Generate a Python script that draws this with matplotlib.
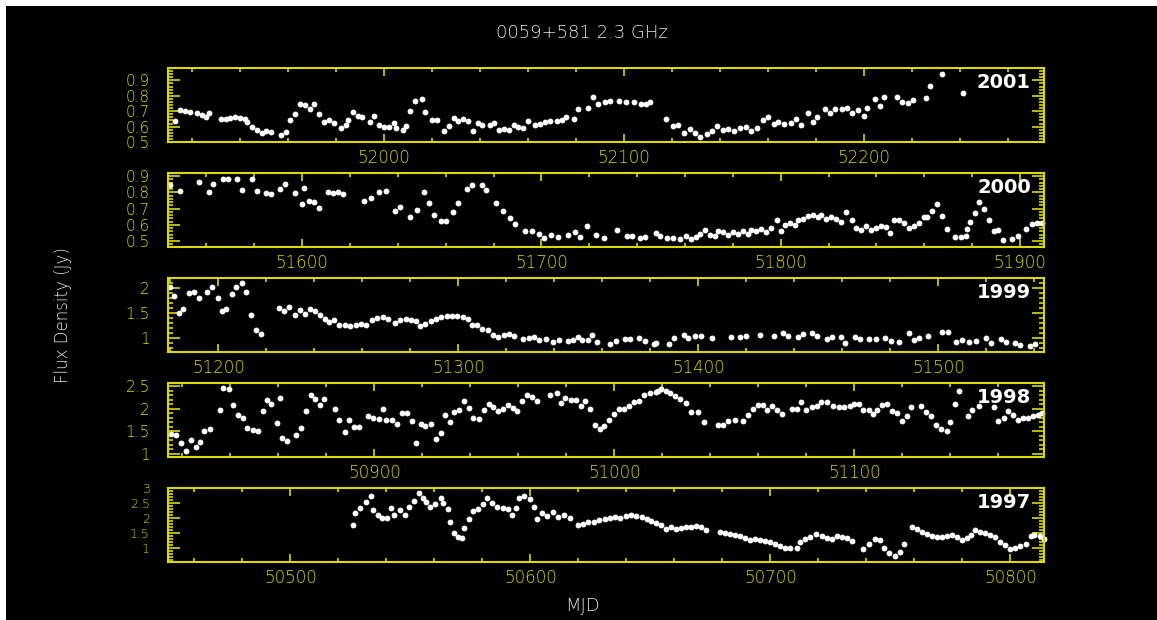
import matplotlib.pyplot as plt
from matplotlib.ticker import MultipleLocator, FuncFormatter
from matplotlib.patches import Rectangle

plt.rcParams["font.family"] = ["DejaVu Sans"]

title = "0059+581 2.3 GHz"
years = ["2001", "2000", "1999", "1998", "1997"]

# 每年的起止MJD（横轴范围）
year_start = [51910, 51544, 51179, 50814, 50449]
year_end = [52275, 51910, 51544, 51179, 50814]

# 纵轴范围与主刻度间隔
y_limits = [(0.5, 0.98), (0.463, 0.92), (0.72, 2.2), (0.93, 2.57), (0.55, 3.0)]
y_major = [0.1, 0.1, 0.5, 0.5, 0.5]
y_minor = [0.02, 0.02, 0.1, 0.1, 0.1]
# 1997年的纵轴刻度较密，字号缩小一些
y_labelsize = [11, 11, 11, 11, 9]

mjd_2001 = [51913, 51915, 51917, 51919, 51922, 51924, 51926, 51927, 51932, 51934,
            51936, 51938, 51940, 51942, 51943, 51945, 51947, 51949, 51951, 51953,
            51957, 51959, 51961, 51963, 51965, 51967, 51969, 51971, 51973, 51975,
            51977, 51979, 51982, 51984, 51985, 51987, 51989, 51991, 51994, 51996,
            51998, 52000, 52002, 52004, 52005, 52008, 52009, 52011, 52013, 52016,
            52017, 52020, 52022, 52025, 52027, 52029, 52031, 52033, 52035, 52037,
            52039, 52041, 52044, 52046, 52048, 52050, 52052, 52054, 52056, 52058,
            52060, 52063, 52065, 52067, 52069, 52072, 52074, 52076, 52079, 52081,
            52085, 52087, 52089, 52092, 52094, 52098, 52101, 52104, 52107, 52109,
            52111, 52117.5, 52120.6, 52122.7, 52124.8, 52127.5, 52129.6, 52131.7,
            52134.5, 52136.6, 52138.6, 52141.1, 52143.5, 52145.9, 52148.4, 52150.7,
            52152.8, 52155.6, 52157.8, 52159.8, 52162.3, 52164.3, 52166.7, 52169.5,
            52171.7, 52173.6, 52176.6, 52178.9, 52180.6, 52183.8, 52185.9, 52187.9,
            52190.7, 52192.8, 52194.9, 52197.7, 52199.8, 52201.4, 52204.6, 52206.7,
            52208.4, 52213.6, 52215.7, 52218.5, 52220.6, 52225.7, 52227.5, 52232.4,
            52241.4]
flux_2001 = [0.633, 0.707, 0.70, 0.696, 0.689, 0.678, 0.662, 0.689, 0.649, 0.649,
             0.656, 0.662, 0.656, 0.649, 0.627, 0.60, 0.578, 0.556, 0.573, 0.567,
             0.544, 0.567, 0.64, 0.682, 0.744, 0.738, 0.716, 0.744, 0.682, 0.627,
             0.644, 0.622, 0.589, 0.611, 0.644, 0.696, 0.667, 0.662, 0.627, 0.667,
             0.611, 0.60, 0.60, 0.622, 0.589, 0.578, 0.604, 0.704, 0.767, 0.778,
             0.696, 0.64, 0.64, 0.571, 0.604, 0.656, 0.633, 0.649, 0.633, 0.573,
             0.622, 0.611, 0.611, 0.622, 0.578, 0.582, 0.578, 0.611, 0.60, 0.589,
             0.633, 0.611, 0.618, 0.627, 0.633, 0.633, 0.64, 0.662, 0.649, 0.716,
             0.722, 0.789, 0.749, 0.76, 0.767, 0.767, 0.76, 0.76, 0.744, 0.744,
             0.76, 0.652, 0.604, 0.613, 0.559, 0.587, 0.559, 0.533,
             0.554, 0.572, 0.602, 0.576, 0.587, 0.57, 0.591, 0.598,
             0.572, 0.591, 0.641, 0.659, 0.615, 0.63, 0.62, 0.626,
             0.652, 0.613, 0.685, 0.63, 0.663, 0.717, 0.689, 0.711,
             0.713, 0.722, 0.689, 0.707, 0.667, 0.722, 0.776, 0.735,
             0.789, 0.793, 0.761, 0.754, 0.772, 0.787, 0.865, 0.941,
             0.815]

mjd_2000 = [51545, 51549, 51557, 51561, 51563, 51567, 51569, 51573, 51575, 51579,
            51581, 51585, 51587, 51591, 51593, 51597, 51600, 51601, 51603, 51605,
            51607, 51611, 51613, 51615, 51617, 51626, 51629, 51632, 51635, 51639,
            51641, 51645, 51648, 51651, 51653, 51655, 51658, 51660, 51663, 51665,
            51669, 51671, 51675, 51677, 51681, 51684, 51687, 51689, 51693, 51696,
            51699, 51701, 51704, 51707, 51711, 51714, 51716, 51719, 51723, 51726,
            51731.8, 51735.6, 51737.7, 51741.2, 51743.3, 51747.9, 51749.5, 51752.3,
            51755.1, 51757.9, 51760.6, 51762.7, 51764.8, 51766.2, 51768.3, 51770.4,
            51772.5, 51773.8, 51775.9, 51778, 51780.1, 51782.2, 51784.3, 51786.3,
            51787.7, 51789.8, 51791.9, 51794, 51796.1, 51798.4, 51800.2, 51801.6,
            51803.7, 51805.8, 51807.2, 51809.3, 51811.3, 51813.4, 51815.5, 51816.9,
            51819, 51821, 51823.1, 51825.2, 51827.3, 51829.8, 51831.5, 51833.6,
            51835.6, 51837.7, 51839.8, 51841.9, 51844, 51845.6, 51847.5, 51849.5,
            51851.6, 51853.7, 51855.8, 51857.9, 51860, 51861.3, 51863.1, 51865.1,
            51867.3, 51869.3, 51872.9, 51875.2, 51877.3, 51878, 51879, 51881.2,
            51882.9, 51884.9, 51887, 51889.1, 51890.9, 51892.9, 51896.8, 51899.3,
            51902.3, 51904.8, 51907.2, 51909.2]
flux_2000 = [0.845, 0.808, 0.865, 0.804, 0.855, 0.882, 0.882, 0.88, 0.814, 0.88,
             0.81, 0.794, 0.79, 0.824, 0.851, 0.794, 0.727, 0.829, 0.749, 0.743,
             0.702, 0.80, 0.794, 0.804, 0.79, 0.749, 0.763, 0.804, 0.81, 0.686,
             0.712, 0.651, 0.692, 0.804, 0.737, 0.661, 0.624, 0.624, 0.678, 0.737,
             0.824, 0.845, 0.845, 0.814, 0.737, 0.688, 0.645, 0.604, 0.559, 0.559,
             0.545, 0.518, 0.539, 0.524, 0.535, 0.553, 0.524, 0.594, 0.539, 0.518,
             0.565, 0.533, 0.533, 0.518, 0.524, 0.549, 0.533, 0.518,
             0.518, 0.512, 0.533, 0.512, 0.524, 0.545, 0.565, 0.539,
             0.533, 0.559, 0.553, 0.539, 0.553, 0.545, 0.559, 0.545,
             0.569, 0.559, 0.573, 0.553, 0.58, 0.627, 0.559, 0.60,
             0.614, 0.60, 0.631, 0.635, 0.655, 0.661, 0.647, 0.661,
             0.635, 0.651, 0.635, 0.62, 0.682, 0.627, 0.58, 0.569,
             0.59, 0.569, 0.58, 0.594, 0.586, 0.549, 0.627, 0.631,
             0.61, 0.58, 0.59, 0.61, 0.647, 0.647, 0.688, 0.729,
             0.655, 0.573, 0.524, 0.524, 0.529, 0.573, 0.62, 0.676,
             0.739, 0.696, 0.631, 0.559, 0.565, 0.508, 0.512, 0.533,
             0.573, 0.606, 0.614, 0.61]

mjd_1999 = [51180, 51181.4, 51183.4, 51185.4, 51187.8, 51189.9, 51191.8, 51195.2,
            51197.3, 51199.7, 51201.5, 51203.3, 51205.6, 51207.4, 51209.7, 51211.6,
            51213.7, 51215.6, 51217.8, 51225.3, 51227.5, 51229.4, 51231.9, 51233.8,
            51235.9, 51238.3, 51240.4, 51242.3, 51244.3, 51246.1, 51248.3, 51250.2,
            51252.7, 51255, 51257.2, 51259.4, 51261.7, 51263.9, 51266.1, 51268.4,
            51270.6, 51273.5, 51275.8, 51278, 51280.2, 51282.5, 51283.9, 51286.2,
            51288.4, 51290.7, 51292.9, 51295.1, 51297.3, 51299.6, 51301.8, 51304,
            51305.5, 51307.7, 51310, 51312.2, 51314.4, 51316.6, 51318.9, 51321.1,
            51323.3, 51327, 51329.3, 51331.5, 51333.7, 51336.4, 51339.4, 51341.9,
            51345.6, 51347.9, 51349.8, 51351.6, 51353.8, 51355.8, 51357.6, 51363.2,
            51365.7, 51369.4, 51371.6, 51375.4, 51377.6, 51381.3, 51382.5, 51387.8,
            51389.7, 51394.1, 51395.5, 51398.7, 51401.1, 51405.6, 51413.4, 51417.2,
            51419.7, 51425.6, 51431.6, 51435.3, 51437.4, 51441.6, 51443.4, 51447.2,
            51449.6, 51453.5, 51455.6, 51459.5, 51461.2, 51465.4, 51467.5, 51471,
            51473.8, 51477.6, 51480.1, 51483.6, 51487.7, 51489.8, 51492, 51495.8,
            51501.4, 51503.8, 51507.3, 51509.7, 51512.9, 51515.7, 51519.9, 51522,
            51525.9, 51528.3, 51531.8, 51534.2, 51538, 51540.4]
flux_1999 = [2.03, 1.85, 1.51, 1.59, 1.90, 1.92, 1.81, 1.93,
             2.03, 1.80, 1.54, 1.59, 1.88, 2.03, 2.10, 1.93,
             1.46, 1.16, 1.09, 1.61, 1.54, 1.63, 1.46, 1.56,
             1.49, 1.59, 1.54, 1.47, 1.39, 1.32, 1.36, 1.27,
             1.26, 1.24, 1.26, 1.29, 1.26, 1.36, 1.41, 1.43,
             1.38, 1.31, 1.36, 1.38, 1.36, 1.34, 1.24, 1.29,
             1.34, 1.39, 1.43, 1.45, 1.45, 1.45, 1.43, 1.38,
             1.27, 1.26, 1.18, 1.16, 1.07, 1.03, 1.07, 1.09,
             1.04, 0.99, 1.00, 1.02, 0.97, 0.99, 0.93, 0.97,
             0.95, 0.97, 1.02, 0.97, 0.97, 1.07, 0.92, 0.89,
             0.95, 0.99, 0.99, 1.01, 0.95, 0.89, 0.90, 0.88,
             1.01, 1.06, 1.00, 1.04, 1.04, 1.00, 1.02, 1.03,
             1.04, 1.06, 1.05, 1.10, 1.04, 1.02, 1.08, 1.10,
             1.04, 0.98, 1.02, 1.02, 0.91, 1.02, 0.98, 0.98,
             0.98, 1.01, 0.95, 0.93, 1.10, 0.96, 1.00, 1.04,
             1.12, 1.12, 0.93, 0.96, 0.93, 0.94, 1.01, 0.91,
             0.98, 0.93, 0.90, 0.86, 0.85, 0.88]

mjd_1998 = [50815.2, 50817.3, 50819.6, 50821.4, 50823.7, 50825.6, 50827.4, 50829.2,
            50831.5, 50835.6, 50837.1, 50839.3, 50841.1, 50843, 50845.2, 50847,
            50849.4, 50851.6, 50853.4, 50855.4, 50857.1, 50859.4, 50860.6, 50861.6,
            50863.5, 50867.3, 50869.3, 50871.7, 50873.5, 50875.4, 50877.2, 50879.2,
            50883.6, 50885.4, 50887.6, 50889.6, 50891.7, 50893.6, 50897.3, 50899.6,
            50901.8, 50903.7, 50904.8, 50907.4, 50909.5, 50911.5, 50913.7, 50915.5,
            50917.4, 50919.3, 50921.1, 50923.4, 50925.6, 50927.8, 50929.3, 50931.5,
            50933.3, 50935.3, 50937.5, 50939.3, 50941.2, 50943.5, 50945.7, 50947.6,
            50949.4, 50951.6, 50953.6, 50955.7, 50957.6, 50959.5, 50961.3, 50963.5,
            50965.8, 50967.6, 50973.2, 50976.2, 50977.7, 50979.5, 50981.8, 50984.1,
            50985.9, 50987.8, 50989.9, 50991.8, 50994, 50995.8, 50997.8, 50999.7,
            51001.8, 51004.2, 51006, 51008.2, 51010.4, 51012.2, 51014.9, 51017.2,
            51018.1, 51019.5, 51021.6, 51023, 51025.1, 51027.2, 51029.7, 51032.1,
            51034.9, 51037.4, 51043.2, 51045.3, 51047.4, 51050.2, 51053.7, 51055.8,
            51057.6, 51060, 51062.1, 51063.7, 51065.6, 51067.9, 51069.7, 51073.9,
            51076, 51077.7, 51079.9, 51082.3, 51084.4, 51086.1, 51088.6, 51091.1,
            51093.4, 51095.5, 51098, 51100, 51101.8, 51103.6, 51106, 51107.8,
            51109.5, 51111.6, 51113.7, 51115.8, 51117.9, 51120, 51121.8, 51123.7,
            51127.6, 51129.7, 51131.8, 51133.9, 51136, 51138.5, 51139.9, 51141.8,
            51143.6, 51147.4, 51149.2, 51152, 51158, 51159.7, 51162.2, 51163.9,
            51166, 51168.1, 51170.2, 51172.3, 51174.4, 51176.4, 51178.2]
flux_1998 = [1.45, 1.42, 1.25, 1.07, 1.30, 1.15, 1.27, 1.50,
             1.55, 1.97, 2.46, 2.44, 2.08, 1.87, 1.79, 1.57,
             1.52, 1.50, 1.94, 2.19, 2.11, 1.68, 2.24, 1.35,
             1.29, 1.42, 1.57, 1.94, 2.31, 2.22, 2.09, 2.22,
             2.00, 1.76, 1.48, 1.74, 1.59, 1.59, 1.83, 1.79,
             1.78, 2.00, 1.76, 1.76, 1.66, 1.91, 1.91, 1.72,
             1.24, 1.67, 1.61, 1.67, 1.33, 1.46, 1.87, 1.70,
             1.92, 1.98, 2.18, 2.02, 1.79, 1.77, 1.97, 2.11,
             2.04, 1.94, 1.99, 2.09, 2.02, 1.94, 2.17, 2.31,
             2.26, 2.18, 2.31, 2.34, 2.13, 2.24, 2.19, 2.19,
             2.05, 2.17, 2.00, 1.65, 1.55, 1.61, 1.76, 1.89,
             2.00, 2.00, 2.07, 2.15, 2.17, 2.31, 2.34, 2.37,
             2.39, 2.43, 2.39, 2.34, 2.29, 2.22, 2.13, 1.93,
             1.93, 1.71, 1.63, 1.63, 1.73, 1.76, 1.72, 1.85,
             1.99, 2.09, 2.08, 1.98, 2.05, 1.98, 1.88, 2.00,
             2.00, 2.14, 1.98, 2.03, 2.07, 2.14, 2.15, 2.05,
             2.03, 2.03, 2.07, 2.11, 2.11, 1.98, 1.97, 1.89,
             1.97, 2.09, 2.11, 1.94, 1.91, 1.72, 1.83, 2.03,
             2.05, 1.92, 1.83, 1.65, 1.55, 1.51, 1.71, 2.11,
             2.40, 1.83, 1.97, 2.07, 2.03, 1.72, 1.79, 1.96,
             1.85, 1.74, 1.79, 1.79, 1.83, 1.85, 1.91]

mjd_1997 = [50526, 50527, 50529.2, 50531.5, 50533.4, 50534.4, 50536.4, 50538.1,
            50540.4, 50541.8, 50543.3, 50545.5, 50547.8, 50549.3, 50551.5, 50553.7,
            50555.2, 50556.7, 50558.2, 50560.4, 50562.6, 50563.7, 50565.6, 50566.6,
            50568.1, 50570, 50571.5, 50572.3, 50574.5, 50576, 50578.2, 50580.4,
            50581.9, 50583.8, 50585.9, 50588.6, 50590.8, 50592.3, 50593.8, 50595.3,
            50597.5, 50599.7, 50601.6, 50602.7, 50604.9, 50607.1, 50609.3, 50611.6,
            50613.8, 50616.5, 50619.7, 50621.9, 50624.2, 50626.4, 50628.6, 50630.9,
            50633.1, 50635.3, 50637.5, 50639.8, 50642, 50644.2, 50646.5, 50648.7,
            50650.3, 50652.4, 50654.5, 50656.5, 50658.6, 50660.7, 50662.8, 50664.9,
            50667, 50669.1, 50671.2, 50673, 50678.8, 50680.9, 50683, 50685.1,
            50687.2, 50689.3, 50691.4, 50693.5, 50695.5, 50697.6, 50699.7, 50701.8,
            50703.9, 50706, 50708.1, 50710.9, 50712.3, 50714.3, 50716.4, 50719.2,
            50721.3, 50723.4, 50725.5, 50727.6, 50729.7, 50731.8, 50733.8, 50738.7,
            50741.2, 50743.6, 50745.7, 50747.4, 50749.6, 50752, 50753.8, 50755.7,
            50758.9, 50761, 50763.1, 50765.2, 50767.3, 50769.4, 50771.5, 50773.5,
            50775.6, 50777.7, 50779.8, 50781.9, 50783.6, 50785.4, 50787.5, 50789.6,
            50791.6, 50793.7, 50795.8, 50797.9, 50800, 50802.1, 50804.2, 50806.3,
            50808.4, 50810, 50812.3, 50814]
flux_1997 = [1.76, 2.16, 2.33, 2.55, 2.72, 2.27, 2.10, 2.01,
             2.01, 2.33, 2.12, 2.27, 2.12, 2.38, 2.57, 2.83,
             2.66, 2.53, 2.36, 2.46, 2.66, 2.49, 2.30, 1.88,
             1.52, 1.37, 1.34, 1.67, 1.99, 2.24, 2.30, 2.46,
             2.66, 2.49, 2.36, 2.33, 2.30, 2.12, 2.33, 2.66,
             2.75, 2.64, 2.38, 1.99, 2.16, 2.08, 2.19, 2.04,
             2.10, 2.01, 1.76, 1.82, 1.88, 1.88, 1.93, 1.99,
             2.01, 2.04, 2.01, 2.08, 2.12, 2.08, 2.04, 1.99,
             1.90, 1.85, 1.76, 1.65, 1.71, 1.65, 1.67, 1.71,
             1.71, 1.74, 1.71, 1.60, 1.54, 1.52, 1.48, 1.43,
             1.40, 1.34, 1.29, 1.31, 1.29, 1.26, 1.22, 1.15,
             1.09, 1.03, 1.00, 1.03, 1.22, 1.31, 1.37, 1.48,
             1.40, 1.34, 1.31, 1.40, 1.37, 1.34, 1.26, 0.98,
             1.15, 1.31, 1.29, 1.03, 0.84, 0.75, 0.89, 1.15,
             1.71, 1.63, 1.54, 1.48, 1.40, 1.37, 1.37, 1.40,
             1.43, 1.37, 1.29, 1.34, 1.43, 1.60, 1.54, 1.52,
             1.45, 1.37, 1.22, 1.11, 0.98, 1.03, 1.07, 1.15,
             1.40, 1.45, 1.40, 1.31]

mjd_list = [mjd_2001, mjd_2000, mjd_1999, mjd_1998, mjd_1997]
flux_list = [flux_2001, flux_2000, flux_1999, flux_1998, flux_1997]

axis_color = "#dada00"

fig = plt.figure(figsize=(11.57, 6.2), dpi=100, facecolor="black")
# 左上角的白边
fig.add_artist(Rectangle((0, 1 - 6 / 620), 1, 6 / 620, transform=fig.transFigure,
                         facecolor="white", edgecolor="none", zorder=-1))
fig.add_artist(Rectangle((0, 0), 6 / 1157, 1, transform=fig.transFigure,
                         facecolor="white", edgecolor="none", zorder=-1))

left = 168 / 1157
width = 876 / 1157
height = 74 / 620

for i in range(5):
    top_px = 68 + 105 * i
    ax = fig.add_axes([left, 1 - (top_px + 74) / 620, width, height])
    ax.set_facecolor("black")

    ax.plot(mjd_list[i], flux_list[i], "o", color="white", markersize=4.2,
            markeredgewidth=0, clip_on=False)

    ax.set_xlim(year_start[i], year_end[i])
    ax.set_ylim(*y_limits[i])

    # 刻度设置：四边朝内，x每100天一个主刻度
    ax.xaxis.set_major_locator(MultipleLocator(100))
    ax.xaxis.set_minor_locator(MultipleLocator(20))
    ax.yaxis.set_major_locator(MultipleLocator(y_major[i]))
    ax.yaxis.set_minor_locator(MultipleLocator(y_minor[i]))
    ax.yaxis.set_major_formatter(FuncFormatter(lambda v, p: f"{v:g}"))
    ax.xaxis.set_major_formatter(FuncFormatter(lambda v, p: f"{v:.0f}"))

    ax.tick_params(axis="both", which="both", direction="in", top=True, right=True,
                   color=axis_color, labelcolor=axis_color, width=1.2)
    ax.tick_params(axis="x", which="major", length=5.5, pad=5, labelsize=12)
    ax.tick_params(axis="x", which="minor", length=3)
    ax.tick_params(axis="y", which="major", length=8.5, pad=13,
                   labelsize=y_labelsize[i])
    ax.tick_params(axis="y", which="minor", length=3.5)
    for lab in ax.get_xticklabels() + ax.get_yticklabels():
        lab.set_fontweight("light")

    for sp in ax.spines.values():
        sp.set_color(axis_color)
        sp.set_linewidth(1.5)

    ax.text(0.985, 0.81, years[i], transform=ax.transAxes, ha="right", va="center",
            color="white", fontsize=14, fontweight="bold")

fig.text(0.5026, 1 - 33 / 620, title, ha="center", va="center", color="#e6e6e6",
         fontsize=13, fontweight="light")
fig.text(0.503, 1 - 606 / 620, "MJD", ha="center", va="center", color="#e6e6e6",
         fontsize=13, fontweight="light")
fig.text(63 / 1157, 1 - 315 / 620, "Flux Density (Jy)", ha="center", va="center",
         rotation=90, color="#e6e6e6", fontsize=12, fontweight="light")

plt.savefig("out.png", dpi=100, facecolor=fig.get_facecolor())
